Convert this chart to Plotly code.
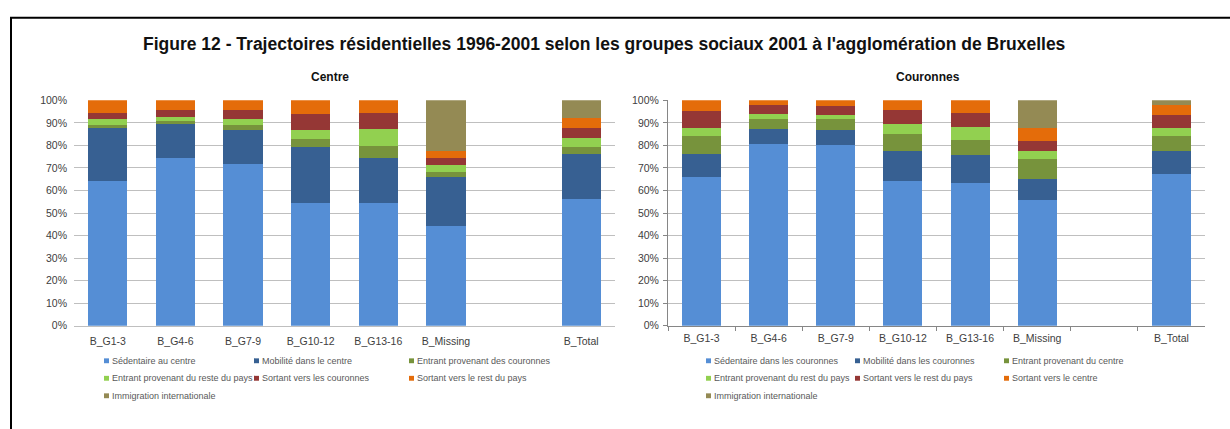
import plotly.graph_objects as go

W, H = 1230, 429

categories = ["B_G1-3", "B_G4-6", "B_G7-9", "B_G10-12", "B_G13-16", "B_Missing", " ", "B_Total"]
tick_labels = ["B_G1-3", "B_G4-6", "B_G7-9", "B_G10-12", "B_G13-16", "B_Missing", "", "B_Total"]

centre_names = [
    "Sédentaire au centre",
    "Mobilité dans le centre",
    "Entrant provenant des couronnes",
    "Entrant provenant du reste du pays",
    "Sortant vers les couronnes",
    "Sortant vers le rest du pays",
    "Immigration internationale",
]
centre_sedentaire = [64.4, 74.4, 71.6, 54.6, 54.3, 44.3, None, 56.3]
centre_mobilite = [23.2, 15.1, 15.3, 24.6, 20.0, 21.8, None, 20.1]
centre_ent_couronnes = [1.5, 1.4, 2.2, 3.7, 5.3, 2.0, None, 2.9]
centre_ent_pays = [2.7, 1.9, 2.6, 4.0, 7.8, 3.2, None, 3.9]
centre_sort_couronnes = [2.7, 2.9, 4.0, 7.1, 7.1, 3.1, None, 4.4]
centre_sort_pays = [5.5, 4.3, 4.3, 6.0, 5.5, 3.2, None, 4.4]
centre_immigration = [0.0, 0.0, 0.0, 0.0, 0.0, 22.4, None, 8.0]

cour_names = [
    "Sédentaire dans les couronnes",
    "Mobilité dans les couronnes",
    "Entrant provenant du centre",
    "Entrant provenant du rest du pays",
    "Sortant vers le rest du pays",
    "Sortant vers le centre",
    "Immigration internationale",
]
cour_sedentaire = [66.2, 80.8, 80.1, 64.2, 63.4, 55.6, None, 67.1]
cour_mobilite = [10.2, 6.5, 6.7, 13.1, 12.3, 9.6, None, 10.2]
cour_ent_centre = [7.6, 4.3, 4.7, 7.8, 6.8, 8.8, None, 6.7]
cour_ent_pays = [3.9, 2.2, 2.1, 4.2, 5.5, 3.6, None, 3.9]
cour_sort_pays = [7.2, 3.9, 3.7, 6.4, 6.5, 4.5, None, 5.5]
cour_sort_centre = [4.9, 2.3, 2.7, 4.3, 5.5, 5.8, None, 4.3]
cour_immigration = [0.0, 0.0, 0.0, 0.0, 0.0, 12.1, None, 2.3]

colors = ["#558ED5", "#376092", "#77933C", "#92D050", "#953735", "#E46C0A", "#948A54"]

centre_values = [centre_sedentaire, centre_mobilite, centre_ent_couronnes, centre_ent_pays,
                 centre_sort_couronnes, centre_sort_pays, centre_immigration]
cour_values = [cour_sedentaire, cour_mobilite, cour_ent_centre, cour_ent_pays,
               cour_sort_pays, cour_sort_centre, cour_immigration]


def px_x(p):
    return p / W


def px_y(p):
    return 1 - p / H


fig = go.Figure()

for name, vals, col in zip(centre_names, centre_values, colors):
    fig.add_trace(go.Bar(x=categories, y=vals, name=name, marker_color=col,
                         marker_line_width=0, showlegend=False,
                         xaxis="x", yaxis="y"))
for name, vals, col in zip(cour_names, cour_values, colors):
    fig.add_trace(go.Bar(x=categories, y=vals, name=name, marker_color=col,
                         marker_line_width=0, showlegend=False,
                         xaxis="x2", yaxis="y2"))

ydom = [px_y(329), px_y(97)]
tick_font = dict(family="Liberation Sans, Arial, sans-serif", size=10.5, color="#404040")
grid_col = "#BFBFBF"

common_y = dict(range=[0, 100], dtick=10, ticksuffix="%", showgrid=True,
                gridcolor=grid_col, gridwidth=1, zeroline=False,
                tickfont=tick_font, domain=ydom, fixedrange=True)
common_x = dict(type="category", categoryorder="array", categoryarray=categories,
                tickvals=categories, ticktext=tick_labels, tickfont=tick_font,
                showgrid=False, zeroline=False, fixedrange=True)

fig.update_layout(
    width=W, height=H,
    margin=dict(l=0, r=0, t=0, b=0),
    paper_bgcolor="white", plot_bgcolor="white",
    barmode="stack", bargap=0.42,
    showlegend=False,
    xaxis=dict(domain=[px_x(74), px_x(615)], anchor="y",
               showline=True, linecolor=grid_col, linewidth=1, ticks="",
               ticklabelstandoff=6, **common_x),
    yaxis=dict(anchor="x", showline=False, ticks="", ticklabelstandoff=6, **common_y),
    xaxis2=dict(domain=[px_x(668), px_x(1205)], anchor="y2",
                showline=True, linecolor="#868686", linewidth=1,
                ticks="outside", ticklen=4, tickcolor="#868686", tickson="boundaries",
                ticklabelstandoff=3, **common_x),
    yaxis2=dict(anchor="x2", showline=True, linecolor="#868686", linewidth=1,
                ticks="outside", ticklen=4, tickcolor="#868686", ticklabelstandoff=2,
                **common_y),
)

annotations = [
    dict(text="<b>Figure 12 - Trajectoires résidentielles 1996-2001 selon les groupes sociaux 2001 à l'agglomération de Bruxelles</b>",
         x=px_x(604), y=px_y(39), xref="paper", yref="paper", showarrow=False,
         xanchor="center", yanchor="middle",
         font=dict(family="Liberation Sans, Arial, sans-serif", size=17.5, color="#111111")),
    dict(text="<b>Centre</b>", x=px_x(330), y=px_y(73), xref="paper", yref="paper",
         showarrow=False, xanchor="center", yanchor="middle",
         font=dict(family="Liberation Sans, Arial, sans-serif", size=12, color="#111111")),
    dict(text="<b>Couronnes</b>", x=px_x(928), y=px_y(73), xref="paper", yref="paper",
         showarrow=False, xanchor="center", yanchor="middle",
         font=dict(family="Liberation Sans, Arial, sans-serif", size=12, color="#111111")),
]

shapes = [
    # frame around the figure (right and bottom edges run off the page)
    dict(type="rect", xref="paper", yref="paper",
         x0=px_x(11), x1=px_x(W + 20), y0=px_y(12), y1=px_y(H + 20),
         line=dict(color="black", width=2), fillcolor="rgba(0,0,0,0)", layer="below"),
]

# Legend blocks: three columns per row, wrapping onto three rows
legend_font = dict(family="Liberation Sans, Arial, sans-serif", size=9, color="#595959")
rows_y = [365, 383, 401]
blocks = [
    (centre_names, [104, 254, 409]),
    (cour_names, [706, 855, 1004]),
]
for names, cols_x in blocks:
    for i, (name, col) in enumerate(zip(names, colors)):
        cx = cols_x[i % 3]
        cy = rows_y[i // 3]
        shapes.append(dict(type="rect", xref="paper", yref="paper",
                           x0=px_x(cx), x1=px_x(cx + 5), y0=px_y(cy + 2.5), y1=px_y(cy - 2.5),
                           fillcolor=col, line=dict(width=0)))
        annotations.append(dict(text=name, x=px_x(cx + 6), y=px_y(cy), xref="paper", yref="paper",
                                showarrow=False, xanchor="left", yanchor="middle",
                                font=legend_font))

fig.update_layout(annotations=annotations, shapes=shapes)

fig.write_html("out.html")
